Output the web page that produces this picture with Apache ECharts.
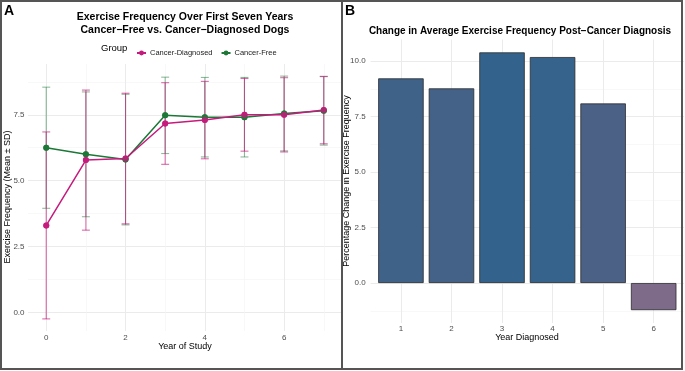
<!DOCTYPE html>
<html>
<head>
<meta charset="utf-8">
<script src="https://cdn.jsdelivr.net/npm/echarts@6/dist/echarts.min.js"></script>
<style>
  html, body { margin: 0; padding: 0; background: #fff; }
  #main { width: 685px; height: 371px; }
</style>
</head>
<body>
<div id="main"></div>
<script>
// panel A data: year of study, mean and SD per group
var years = [0, 1, 2, 3, 4, 5, 6, 7];
var diagMean = [3.30, 5.78, 5.84, 7.17, 7.30, 7.50, 7.50, 7.68];
var diagSd   = [3.55, 2.66, 2.48, 1.55, 1.47, 1.38, 1.41, 1.28];
var freeMean = [6.25, 6.00, 5.80, 7.48, 7.41, 7.41, 7.55, 7.65];
var freeSd   = [2.30, 2.37, 2.48, 1.45, 1.51, 1.51, 1.42, 1.30];
var xTicksA = [0, 2, 4, 6];
var xMinorA = [1, 3, 5, 7];
var yTicksA = [0, 2.5, 5, 7.5];
var yMinorA = [1.25, 3.75, 6.25, 8.75];

// panel B data
var yearDiagnosed = [1, 2, 3, 4, 5, 6];
var pctChange = [9.22, 8.77, 10.39, 10.18, 8.09, -1.22];
var yTicksB = [0, 2.5, 5, 7.5, 10];
var yMinorB = [-1.25, 1.25, 3.75, 6.25, 8.75];

var FONT = '"Liberation Sans", Arial, sans-serif';
var PINK = '#C51B7D', GREEN = '#1B7837';
var gridA = {left: 28, top: 64, width: 314, height: 267};
var gridB = {left: 370.6, top: 39.5, width: 313.4, height: 283.5};
var xRangeB = [0.4, 6.6];

var chart = echarts.init(document.getElementById('main'));

function errData(mean, sd){
	return years.map(function(y, i){ return [y, mean[i] - sd[i], mean[i] + sd[i]]; });
}
function errRender(color, alpha){
	return function(params, api){
		var x = api.value(0);
		var lo = api.coord([x, api.value(1)]);
		var hi = api.coord([x, api.value(2)]);
		var half = api.size([0.2, 0])[0] / 2;
		var st = {stroke: color, lineWidth: 1.1, opacity: alpha};
		return {type: 'group', children: [
			{type: 'line', shape: {x1: lo[0], y1: lo[1], x2: hi[0], y2: hi[1]}, style: st},
			{type: 'line', shape: {x1: lo[0] - half, y1: lo[1], x2: lo[0] + half, y2: lo[1]}, style: st},
			{type: 'line', shape: {x1: hi[0] - half, y1: hi[1], x2: hi[0] + half, y2: hi[1]}, style: st}
		]};
	};
}
function pairs(xs, ys){ return xs.map(function(x, i){ return [x, ys[i]]; }); }

var majorLine = {show: true, lineStyle: {color: '#EBEBEB', width: 1}};
var minorLine = {show: true, lineStyle: {color: '#F4F4F4', width: 0.6}};
var lbl = {color: '#4D4D4D', fontSize: 8, fontFamily: FONT};

function valAxis(gridIndex, min, max, ticks, minor, extra){
	var major = {
		type: 'value', gridIndex: gridIndex, min: min, max: max,
		axisLine: {show: false},
		axisTick: {show: false, customValues: ticks},
		axisLabel: Object.assign({customValues: ticks}, lbl, extra || {}),
		splitLine: majorLine
	};
	var sub = {
		type: 'value', gridIndex: gridIndex, min: min, max: max,
		axisLine: {show: false},
		axisTick: {show: false, customValues: minor},
		axisLabel: {show: false, customValues: minor},
		splitLine: minorLine
	};
	return [major, sub];
}

var xA = valAxis(0, -0.46, 7.46, xTicksA, xMinorA, {margin: 3, formatter: function(v){ return v.toFixed(0); }});
var yA = valAxis(0, -0.71, 9.43, yTicksA, yMinorA, {margin: 3.5, formatter: function(v){ return v.toFixed(1); }});
var xB = valAxis(1, xRangeB[0], xRangeB[1], yearDiagnosed, [], {margin: 2, formatter: function(v){ return v.toFixed(0); }});
var yB = valAxis(1, -1.8, 10.97, yTicksB, yMinorB, {margin: 5, formatter: function(v){ return v.toFixed(1); }});
xB = [xB[0]];

var barW = 0.9 * gridB.width / (xRangeB[1] - xRangeB[0]);

var option = {
	animation: false,
	backgroundColor: '#fff',
	grid: [gridA, gridB],
	xAxis: xA.concat(xB),
	yAxis: yA.concat(yB),
	legend: {
		left: 131, top: 44, itemWidth: 9, itemHeight: 6, itemGap: 8,
		data: ['Cancer-Diagnosed', 'Cancer-Free'],
		textStyle: {fontSize: 7.5, color: '#1A1A1A', fontFamily: FONT, padding: [0, 0, 0, -1]}
	},
	visualMap: {
		show: false, type: 'continuous', seriesIndex: 6, dimension: 1,
		min: -1.22, max: 10.39,
		inRange: {color: ['#7E6A89', '#75688A', '#6A6689', '#5C6388', '#4B6186', '#33638C']}
	},
	series: [
		{name: 'err-free', type: 'custom', xAxisIndex: 0, yAxisIndex: 0, renderItem: errRender(GREEN, 0.5), data: errData(freeMean, freeSd), z: 2},
		{name: 'err-diag', type: 'custom', xAxisIndex: 0, yAxisIndex: 0, renderItem: errRender(PINK, 0.65), data: errData(diagMean, diagSd), z: 2},
		{name: 'Cancer-Free', type: 'line', xAxisIndex: 0, yAxisIndex: 0, data: pairs(years, freeMean),
			color: GREEN, symbol: 'circle', symbolSize: 6, lineStyle: {width: 1.5}, z: 3},
		{name: 'Cancer-Diagnosed', type: 'line', xAxisIndex: 0, yAxisIndex: 0, data: pairs(years, diagMean),
			color: PINK, symbol: 'circle', symbolSize: 6, lineStyle: {width: 1.5}, z: 4},
		{name: 'cf-pts', type: 'scatter', xAxisIndex: 0, yAxisIndex: 0, data: pairs(years, freeMean),
			color: GREEN, symbolSize: 6, z: 5},
		{name: 'cd-pts', type: 'scatter', xAxisIndex: 0, yAxisIndex: 0, data: pairs(years, diagMean),
			color: PINK, symbolSize: 6, z: 5},
		{name: 'change', type: 'bar', xAxisIndex: 2, yAxisIndex: 2, data: pairs(yearDiagnosed, pctChange),
			barWidth: barW, itemStyle: {borderColor: '#2B2B2B', borderWidth: 0.8}}
	],
	graphic: [
		{type: 'text', left: 4, top: 4, style: {text: 'A', font: 'bold 14px ' + FONT, fill: '#000'}},
		{type: 'text', left: 345, top: 4, style: {text: 'B', font: 'bold 14px ' + FONT, fill: '#000'}},
		{type: 'text', x: 185, y: 11, style: {text: 'Exercise Frequency Over First Seven Years\nCancer\u2212Free vs. Cancer\u2212Diagnosed Dogs',
			font: 'bold 10.5px ' + FONT, fill: '#000', align: 'center', lineHeight: 12.5}},
		{type: 'text', x: 101, y: 43, style: {text: 'Group', font: '9.5px ' + FONT, fill: '#000'}},
		{type: 'text', x: 520, y: 26, style: {text: 'Change in Average Exercise Frequency Post\u2212Cancer Diagnosis',
			font: 'bold 10px ' + FONT, fill: '#000', align: 'center'}},
		{type: 'text', x: 185, y: 342, style: {text: 'Year of Study', font: '9px ' + FONT, fill: '#000', align: 'center'}},
		{type: 'text', x: 527, y: 333, style: {text: 'Year Diagnosed', font: '9px ' + FONT, fill: '#000', align: 'center'}},
		{type: 'text', x: 3, y: 197, rotation: Math.PI / 2, style: {text: 'Exercise Frequency (Mean \u00B1 SD)', font: '9px ' + FONT, fill: '#000', align: 'center'}},
		{type: 'text', x: 342, y: 181, rotation: Math.PI / 2, style: {text: 'Percentage Change in Exercise Frequency', font: '9px ' + FONT, fill: '#000', align: 'center'}},
		{type: 'rect', z: 100, shape: {x: 1, y: 1, width: 341, height: 368}, style: {fill: null, stroke: '#555', lineWidth: 2}},
		{type: 'rect', z: 100, shape: {x: 342, y: 1, width: 340, height: 368}, style: {fill: null, stroke: '#555', lineWidth: 2}}
	]
};
chart.setOption(option);
</script>
</body>
</html>
